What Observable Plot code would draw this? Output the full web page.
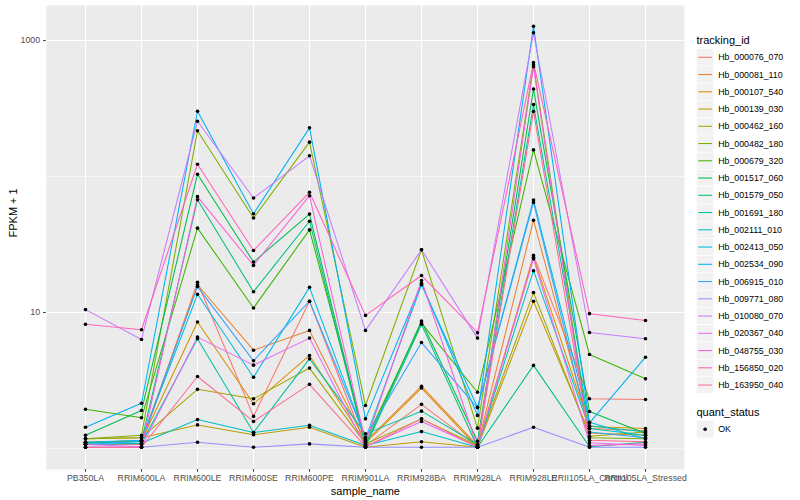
<!DOCTYPE html>
<html><head><meta charset="utf-8">
<script src="https://cdn.jsdelivr.net/npm/d3@7"></script>
<script src="https://cdn.jsdelivr.net/npm/@observablehq/plot@0.6"></script>
<style>
body{margin:0;background:#fff;font-family:"Liberation Sans",Arial,Helvetica,sans-serif;}
#wrap{position:relative;width:800px;height:500px;}
#wrap svg.overlay{position:absolute;left:0;top:0;pointer-events:none;}
</style></head><body><div id="wrap"></div>
<script>
const samples = ["PB350LA","RRIM600LA","RRIM600LE","RRIM600SE","RRIM600PE","RRIM901LA","RRIM928BA","RRIM928LA","RRIM928LE","RRII105LA_Control","RRII105LA_Stressed"];
const trackingIds = ["Hb_000076_070","Hb_000081_110","Hb_000107_540","Hb_000139_030","Hb_000462_160","Hb_000482_180","Hb_000679_320","Hb_001517_060","Hb_001579_050","Hb_001691_180","Hb_002111_010","Hb_002413_050","Hb_002534_090","Hb_006915_010","Hb_009771_080","Hb_010080_070","Hb_020367_040","Hb_048755_030","Hb_156850_020","Hb_163950_040"];
const palette = ["#F8766D","#EA8331","#D89000","#C09B00","#A3A500","#7CAE00","#39B600","#00BB4E","#00BF7D","#00C1A3","#00BFC4","#00BAE0","#00B0F6","#35A2FF","#9590FF","#C77CFF","#E76BF3","#FA62DB","#FF62BC","#FF6C91"];
const yTicks = [10, 1000];
const quantStatus = ["OK"];

// FPKM + 1 per sample (order of samples)
const Hb_000076_070 = [1.07, 1.07, 16.7, 1.72, 12.1, 1.05, 2.11, 1.03, 26.3, 2.32, 2.29];
const Hb_000081_110 = [1.11, 1.14, 16.0, 5.28, 7.38, 1.12, 2.87, 1.05, 47.7, 1.40, 1.35];
const Hb_000107_540 = [1.11, 1.14, 8.51, 2.13, 4.83, 1.10, 2.78, 1.02, 25.5, 1.45, 1.40];
const Hb_000139_030 = [1.18, 1.20, 1.49, 1.26, 1.43, 1.02, 1.12, 1.02, 12.1, 1.30, 1.25];
const Hb_000462_160 = [1.18, 1.20, 2.72, 2.32, 3.90, 1.08, 1.65, 1.05, 14.0, 1.23, 1.32];
const Hb_000482_180 = [1.18, 1.25, 217, 49.5, 179, 2.07, 28.9, 1.41, 665, 1.20, 1.18];
const Hb_000679_320 = [1.94, 1.68, 41.7, 10.8, 40.5, 1.15, 8.36, 2.59, 157, 4.91, 3.25];
const Hb_001517_060 = [1.25, 1.90, 104, 23.5, 52.9, 1.07, 8.66, 1.13, 440, 1.87, 1.29];
const Hb_001579_050 = [1.09, 1.13, 67.5, 14.2, 46.9, 1.03, 8.18, 1.02, 4.08, 1.03, 1.11];
const Hb_001691_180 = [1.11, 1.09, 6.41, 1.31, 4.56, 1.28, 1.88, 1.07, 338, 1.47, 1.32];
const Hb_002111_010 = [1.07, 1.09, 1.63, 1.31, 1.48, 1.05, 1.33, 1.02, 20.3, 1.40, 1.25];
const Hb_002413_050 = [1.11, 1.15, 13.6, 3.34, 15.3, 1.18, 16.0, 2.01, 67.2, 1.56, 1.18];
const Hb_002534_090 = [1.43, 2.15, 302, 53.2, 228, 1.65, 16.4, 1.75, 1274, 1.54, 4.69];
const Hb_006915_010 = [1.07, 1.13, 15.5, 4.41, 12.1, 1.20, 6.01, 1.99, 64.5, 1.32, 1.20];
const Hb_009771_080 = [1.02, 1.02, 1.11, 1.02, 1.08, 1.02, 1.02, 1.02, 1.43, 1.02, 1.02];
const Hb_010080_070 = [10.5, 6.33, 255, 69.5, 142, 7.38, 28.9, 6.48, 1141, 7.13, 6.41];
const Hb_020367_040 = [1.07, 1.03, 6.59, 4.10, 6.48, 1.03, 1.58, 1.03, 24.8, 1.10, 1.05];
const Hb_048755_030 = [1.02, 1.02, 71.1, 22.2, 72.3, 1.10, 17.2, 1.02, 643, 1.05, 1.08];
const Hb_156850_020 = [8.18, 7.46, 123, 28.6, 76.6, 9.52, 18.7, 7.10, 688, 9.80, 8.72];
const Hb_163950_040 = [1.02, 1.02, 3.38, 1.58, 2.96, 1.03, 1.65, 1.02, 301, 1.15, 1.12];

const seriesValues = [Hb_000076_070, Hb_000081_110, Hb_000107_540, Hb_000139_030, Hb_000462_160, Hb_000482_180, Hb_000679_320, Hb_001517_060, Hb_001579_050, Hb_001691_180, Hb_002111_010, Hb_002413_050, Hb_002534_090, Hb_006915_010, Hb_009771_080, Hb_010080_070, Hb_020367_040, Hb_048755_030, Hb_156850_020, Hb_163950_040];

const rows = [];
trackingIds.forEach((id, i) => {
  seriesValues[i].forEach((v, j) => rows.push({id, sample: samples[j], value: v, status: "OK"}));
});

const font = '"Liberation Sans",Arial,Helvetica,sans-serif';
const plot = Plot.plot({
  width: 800, height: 500,
  marginLeft: 45.8, marginRight: 116, marginTop: 5, marginBottom: 31,
  style: {fontFamily: font, fontSize: "8.8px", background: "transparent", overflow: "visible"},
  x: {type: "point", domain: samples, padding: 0.6, label: null},
  y: {type: "log", domain: [0.70, 1811], label: null},
  color: {domain: trackingIds, range: palette},
  marks: [
    Plot.frame({fill: "#EBEBEB", stroke: "none"}),
    Plot.ruleY([1, 100], {stroke: "#FFFFFF", strokeWidth: 0.55}),
    Plot.ruleY(yTicks, {stroke: "#FFFFFF", strokeWidth: 1.1}),
    Plot.ruleX(samples, {stroke: "#FFFFFF", strokeWidth: 1.1}),
    Plot.line(rows, {x: "sample", y: "value", z: "id", stroke: "id", strokeWidth: 1.05}),
    Plot.dot(rows, {x: "sample", y: "value", r: 1.8, fill: "black", stroke: "none"}),
    Plot.axisY({ticks: yTicks, tickFormat: d => String(d), tickSize: 2.7, tickPadding: 3.5, stroke: "#333333", fill: "#4D4D4D", fontSize: 8.8}),
    Plot.axisX({tickSize: 2.7, tickPadding: 2.5, stroke: "#333333", fill: "#4D4D4D", fontSize: 8.8}),
    Plot.text(["FPKM + 1"], {frameAnchor: "left", dx: -33, rotate: -90, fontSize: 11, fill: "black"}),
    Plot.text(["sample_name"], {frameAnchor: "bottom", dy: 22, fontSize: 11, fill: "black", lineAnchor: "middle"})
  ]
});
const wrap = document.getElementById("wrap");
wrap.appendChild(plot);

// legend overlay
const color = plot.scale("color");
const svg = d3.select(wrap).append("svg").attr("class", "overlay").attr("width", 800).attr("height", 500)
  .style("font-family", font);
const lx = 696.5, key = 17.28, y0 = 57.3, step = 17.25;
svg.append("text").attr("x", lx).attr("y", 44).attr("font-size", 11).attr("fill", "black").text("tracking_id");
trackingIds.forEach((id, i) => {
  const cy = y0 + i * step;
  svg.append("rect").attr("x", lx).attr("y", cy - key / 2).attr("width", key).attr("height", key)
    .attr("fill", "#F2F2F2").attr("stroke", "#FFFFFF").attr("stroke-width", 0.6);
  svg.append("line").attr("x1", lx + 1.7).attr("x2", lx + key - 1.7).attr("y1", cy).attr("y2", cy)
    .attr("stroke", color.apply(id)).attr("stroke-width", 1.05);
  svg.append("text").attr("x", lx + key + 4.4).attr("y", cy).attr("dy", "0.35em").attr("font-size", 8.8)
    .attr("fill", "black").text(id);
});
svg.append("text").attr("x", lx).attr("y", 416).attr("font-size", 11).attr("fill", "black").text("quant_status");
quantStatus.forEach((s, i) => {
  const cy = 429.3 + i * step;
  svg.append("rect").attr("x", lx).attr("y", cy - key / 2).attr("width", key).attr("height", key)
    .attr("fill", "#F2F2F2").attr("stroke", "#FFFFFF").attr("stroke-width", 0.6);
  svg.append("circle").attr("cx", lx + key / 2).attr("cy", cy).attr("r", 1.8).attr("fill", "black");
  svg.append("text").attr("x", lx + key + 4.4).attr("y", cy).attr("dy", "0.35em").attr("font-size", 8.8)
    .attr("fill", "black").text(s);
});
</script></body></html>
